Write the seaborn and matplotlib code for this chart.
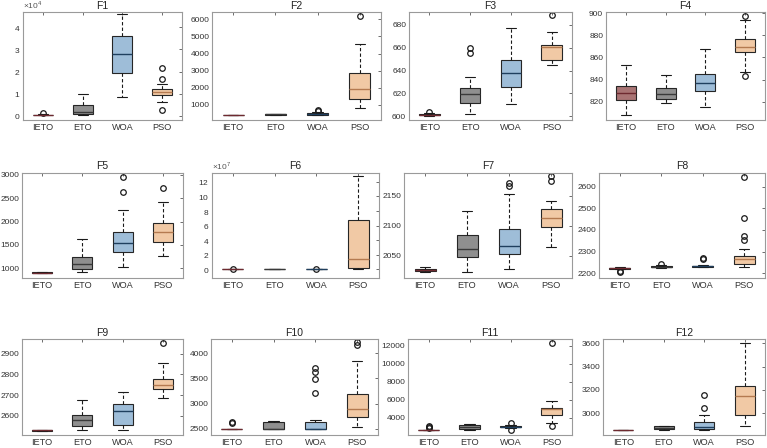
import numpy as np
import pandas as pd
import seaborn as sns
import matplotlib
matplotlib.use("Agg")
import matplotlib.pyplot as plt
from matplotlib.ticker import MultipleLocator

# %%-----------------------------------------------------------------------
# data: per algorithm [whisker low, q1, median, q3, whisker high] and outliers

algs = ["IETO", "ETO", "WOA", "PSO"]
titles = ["F1", "F2", "F3", "F4", "F5", "F6", "F7", "F8", "F9", "F10", "F11", "F12"]

F1_stats = [[150, 300, 350, 450, 650], [100, 600, 1800, 4800, 10000],
            [8600, 19500, 27900, 36200, 46000], [6000, 9200, 10600, 12000, 14400]]
F1_fliers = [[1000], [], [], [21400, 16700, 2600]]

F2_stats = [[405, 410, 412, 415, 420], [420, 435, 450, 465, 490],
            [420, 440, 470, 510, 580], [825, 1350, 1940, 2840, 4550]]
F2_fliers = [[], [], [650, 700], [6200]]

F3_stats = [[600.5, 601, 601.5, 602, 602.8], [602, 611.5, 619.5, 624.8, 634.2],
            [611.2, 625.7, 638.1, 649.3, 677.3], [644.8, 649.6, 660.3, 662, 674.1]]
F3_fliers = [[604], [659.4, 655.8], [], [688.5]]

F4_stats = [[808.3, 822.1, 827.8, 834.7, 852.8], [819.4, 822.4, 827.5, 832.3, 844.1],
            [815.3, 829.5, 837.3, 845.5, 867.3], [847, 864.5, 869.3, 876.5, 894]]
F4_fliers = [[], [], [], [897.5, 843]]

F5_stats = [[895, 900, 905, 910, 915], [921, 986, 1093, 1250, 1629],
            [1029, 1336, 1543, 1771, 2236], [1271, 1564, 1779, 1971, 2414]]
F5_fliers = [[925], [], [2636, 2950], [2721]]

F6_stats = [[1e4, 2e4, 3e4, 4e4, 5e4], [1e4, 2e4, 3e4, 4e4, 5e4],
            [1e4, 2e4, 3e4, 4e4, 5e4], [0, 0.09e7, 1.43e7, 6.79e7, 12.84e7]]
F6_fliers = [[3e5], [], [3e5], []]

F7_stats = [[2022.8, 2025, 2026.7, 2028.3, 2031], [2023.3, 2047.8, 2061.1, 2085, 2125],
            [2028.3, 2053.9, 2066.1, 2094.4, 2153.9], [2065.6, 2097.8, 2113.3, 2127.8, 2142.2]]
F7_fliers = [[], [], [2172, 2166], [2183.9, 2175.6]]

F8_stats = [[2218, 2222, 2225, 2227, 2231], [2226, 2229, 2231, 2234, 2237],
            [2228, 2231, 2233, 2236, 2240], [2231, 2244, 2264, 2278, 2311]]
F8_fliers = [[2212, 2205], [2245], [2266, 2271], [2643, 2453, 2370, 2356]]

F9_stats = [[2528, 2529, 2530, 2531, 2532], [2531, 2549, 2579, 2605, 2677],
            [2532, 2557, 2623, 2659, 2716], [2687, 2728, 2750, 2780, 2855]]
F9_fliers = [[2534], [], [], [2951]]

F10_stats = [[2497, 2499, 2500, 2501, 2503], [2500, 2500, 2501, 2633, 2653],
             [2500, 2500, 2502, 2640, 2666], [2540, 2728, 2887, 3186, 3857]]
F10_fliers = [[2620, 2640], [], [3714, 3634, 3488, 3203], [4222, 4169]]

F11_stats = [[2590, 2610, 2620, 2640, 2660], [2593, 2741, 2963, 3148, 3296],
             [2815, 2926, 3000, 3111, 3222], [3380, 4280, 4926, 5040, 5852]]
F11_fliers = [[2850, 2950, 3050], [], [3420, 2600], [12296, 3080]]

F12_stats = [[2854, 2855, 2856, 2857, 2858], [2860, 2863, 2877, 2889, 2894],
             [2860, 2863, 2880, 2926, 2983], [2891, 2983, 3151, 3237, 3603]]
F12_fliers = [[], [], [3043, 3157], []]

all_stats = [F1_stats, F2_stats, F3_stats, F4_stats, F5_stats, F6_stats,
             F7_stats, F8_stats, F9_stats, F10_stats, F11_stats, F12_stats]
all_fliers = [F1_fliers, F2_fliers, F3_fliers, F4_fliers, F5_fliers, F6_fliers,
              F7_fliers, F8_fliers, F9_fliers, F10_fliers, F11_fliers, F12_fliers]

y_limits = [(-0.2e4, 4.7e4), (120, 6430), (596.8, 691.2), (803.8, 900.9),
            (800, 3050), (-1.15e7, 13.3e7), (2014, 2189), (2181, 2665),
            (2508, 2971), (2374, 4286), (2074, 12741), (2814, 3637)]
y_steps = [1e4, 1000, 20, 20, 500, 2e7, 50, 100, 100, 500, 2000, 200]
y_exponent = {0: 4, 5: 7}

box_colors = ["#a97474", "#8f8f8f", "#9ebdd8", "#f1c9a5"]
median_colors = ["#6e2a30", "#3a3a3a", "#1f3f5e", "#b47a50"]

# %%-----------------------------------------------------------------------
# layout in pixels (left, right) per panel, (top, bottom) per row

W, H = 767, 448
panel_x = [(23, 182), (212, 381), (409, 572), (606, 765),
           (22, 183), (212, 379), (404, 572), (599, 765),
           (22, 183), (211, 378), (408, 572), (603, 765)]
row_y = [(12, 120), (172.5, 277.5), (339, 435)]


def sample(stats, fliers):
    # sample whose quartiles / whiskers reproduce the read-off box
    lo, q1, med, q3, hi = stats
    return [lo] + [q1] * 8 + [med] * 8 + [q3] * 8 + [hi] + list(fliers)


sns.set_theme(style="white")
plt.rcParams["font.family"] = ["Liberation Sans", "DejaVu Sans"]
plt.rcParams["mathtext.fontset"] = "custom"
plt.rcParams["mathtext.rm"] = "Liberation Sans"

fig = plt.figure(figsize=(W / 100, H / 100), dpi=100)

for i in range(12):
    x0, x1 = panel_x[i]
    y0, y1 = row_y[i // 4]
    ax = fig.add_axes([x0 / W, 1 - y1 / H, (x1 - x0) / W, (y1 - y0) / H])

    rows = []
    for alg, st, fl in zip(algs, all_stats[i], all_fliers[i]):
        for v in sample(st, fl):
            rows.append({"alg": alg, "val": v})
    df = pd.DataFrame(rows)

    sns.boxplot(data=df, x="alg", y="val", hue="alg", order=algs, hue_order=algs,
                palette=box_colors, saturation=1, width=0.5, linecolor="#262626",
                linewidth=0.8, fliersize=4, legend=False, ax=ax,
                whiskerprops=dict(linestyle=(0, (3, 2)), color="k"),
                capprops=dict(color="k"),
                flierprops=dict(marker="o", markerfacecolor="none",
                                markeredgecolor="k", markeredgewidth=0.9))

    for cont, mc in zip(ax.containers, median_colors):
        for m in cont.medians:
            m.set_color(mc)
            m.set_linewidth(1.0)
        for f in cont.fliers:
            f.set_markerfacecolor("none")
            f.set_markeredgecolor("k")

    ax.set_xlim(-0.5, 3.5)
    ax.set_ylim(*y_limits[i])
    ax.yaxis.set_major_locator(MultipleLocator(y_steps[i]))
    if i in y_exponent:
        e = y_exponent[i]
        ax.ticklabel_format(style="sci", axis="y", scilimits=(e, e), useMathText=True)
        ax.yaxis.get_offset_text().set_visible(False)
        ax.text(0.0, 1.008, r"$\times$10$^{%d}$" % e, transform=ax.transAxes,
                ha="left", va="bottom", fontsize=6, color="#555555")
    ax.set_xlabel("")
    ax.set_ylabel("")
    ax.set_title(titles[i], fontsize=7.5, pad=2.5, color="#222222")
    ax.tick_params(axis="both", which="both", direction="in", top=True, right=True,
                   length=2.5, width=0.6, color="#555555", labelsize=6,
                   labelcolor="#333333", pad=2)
    ax.tick_params(axis="x", labelsize=6.6, pad=2.5)
    for s in ax.spines.values():
        s.set_color("#9a9a9a")
        s.set_linewidth(0.8)

plt.savefig("out.png", dpi=100)
